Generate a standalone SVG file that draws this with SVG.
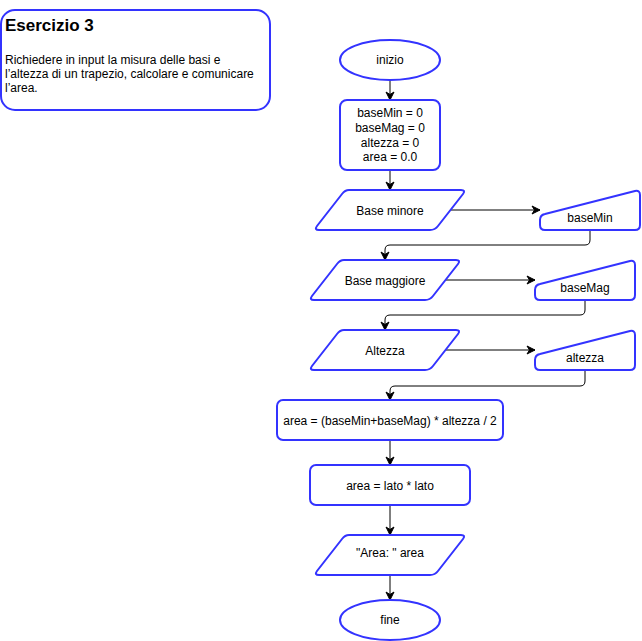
<svg xmlns="http://www.w3.org/2000/svg" width="642" height="641" viewBox="0 0 642 641">
  <defs>
    <marker id="arrow" viewBox="0 0 10 10" refX="9" refY="5" markerWidth="10" markerHeight="10" markerUnits="userSpaceOnUse" orient="auto">
      <path d="M1,1 L9,5 L1,9 L3.5,5 Z" fill="#000" stroke="#000" stroke-width="1"/>
    </marker>
  </defs>
  <style>
    .shape { fill: #fff; stroke: #3333ff; stroke-width: 2; stroke-linejoin: round; }
    .edge { fill: none; stroke: #000; stroke-width: 1; marker-end: url(#arrow); }
    text { font-family: "Liberation Sans", Arial, sans-serif; font-size: 12px; fill: #000; }
    .c { text-anchor: middle; dominant-baseline: central; }
    .title { font-size: 17px; font-weight: bold; }
  </style>
  <rect width="642" height="641" fill="#fff"/>

  <!-- connectors -->
  <g id="edges">
    <path class="edge" d="M390,80 V100"/>
    <path class="edge" d="M390,170 V190"/>
    <path class="edge" d="M450,210 H540"/>
    <path class="edge" d="M590,230 V240 Q590,245 585,245 H390 Q385,245 385,250 V260"/>
    <path class="edge" d="M445,280 H535"/>
    <path class="edge" d="M585,300 V310 Q585,315 580,315 H390 Q385,315 385,320 V330"/>
    <path class="edge" d="M445,350 H535"/>
    <path class="edge" d="M585,370 V381 Q585,386 580,386 H395 Q390,386 390,391 V400"/>
    <path class="edge" d="M390,440 V465"/>
    <path class="edge" d="M390,505 V535"/>
    <path class="edge" d="M390,575 V600"/>
  </g>

  <!-- description note -->
  <g id="note">
    <rect class="shape" x="1" y="10" width="269" height="100" rx="14"/>
    <text class="title" x="5" y="31">Esercizio 3</text>
    <text x="5" y="64">Richiedere in input la misura delle basi e</text>
    <text x="5" y="78">l’altezza di un trapezio, calcolare e comunicare</text>
    <text x="5" y="92">l’area.</text>
  </g>

  <g id="start">
    <ellipse class="shape" cx="390" cy="60" rx="50" ry="20"/>
    <text class="c" x="390" y="60">inizio</text>
  </g>

  <g id="init">
    <rect class="shape" x="340" y="100" width="100" height="70" rx="7"/>
    <text class="c" x="390" y="113">baseMin = 0</text>
    <text class="c" x="390" y="128">baseMag = 0</text>
    <text class="c" x="390" y="143">altezza = 0</text>
    <text class="c" x="390" y="157">area = 0.0</text>
  </g>

  <g id="out-basemin">
    <path class="shape" d="M349,190 H461 Q466,190 463,194 L438,226 Q435,230 430,230 H319 Q314,230 317,226 L342,194 Q345,190 349,190 Z"/>
    <text class="c" x="390" y="211">Base minore</text>
  </g>
  <g id="in-basemin">
    <path class="shape" d="M545,230 Q540,230 540,225 V220 Q540,215 545,214 L635,191 Q640,190 640,195 V225 Q640,230 635,230 Z"/>
    <text class="c" x="590" y="218">baseMin</text>
  </g>

  <g id="out-basemag">
    <path class="shape" d="M344,260 H456 Q461,260 458,264 L433,296 Q430,300 425,300 H314 Q309,300 312,296 L337,264 Q340,260 344,260 Z"/>
    <text class="c" x="385" y="281">Base maggiore</text>
  </g>
  <g id="in-basemag">
    <path class="shape" d="M540,300 Q535,300 535,295 V290 Q535,285 540,284 L630,261 Q635,260 635,265 V295 Q635,300 630,300 Z"/>
    <text class="c" x="585" y="288">baseMag</text>
  </g>

  <g id="out-altezza">
    <path class="shape" d="M344,330 H456 Q461,330 458,334 L433,366 Q430,370 425,370 H314 Q309,370 312,366 L337,334 Q340,330 344,330 Z"/>
    <text class="c" x="385" y="351">Altezza</text>
  </g>
  <g id="in-altezza">
    <path class="shape" d="M540,370 Q535,370 535,365 V360 Q535,355 540,354 L630,331 Q635,330 635,335 V365 Q635,370 630,370 Z"/>
    <text class="c" x="585" y="358">altezza</text>
  </g>

  <g id="calc-area">
    <rect class="shape" x="277" y="400" width="226" height="40" rx="6"/>
    <text class="c" x="390" y="421">area = (baseMin+baseMag) * altezza / 2</text>
  </g>

  <g id="calc-lato">
    <rect class="shape" x="310" y="465" width="160" height="40" rx="6"/>
    <text class="c" x="390" y="486">area = lato * lato</text>
  </g>

  <g id="out-area">
    <path class="shape" d="M349,535 H461 Q466,535 463,539 L438,571 Q435,575 430,575 H319 Q314,575 317,571 L342,539 Q345,535 349,535 Z"/>
    <text class="c" x="390" y="553">"Area: " area</text>
  </g>

  <g id="end">
    <ellipse class="shape" cx="390" cy="620" rx="50" ry="20"/>
    <text class="c" x="390" y="620">fine</text>
  </g>
</svg>
